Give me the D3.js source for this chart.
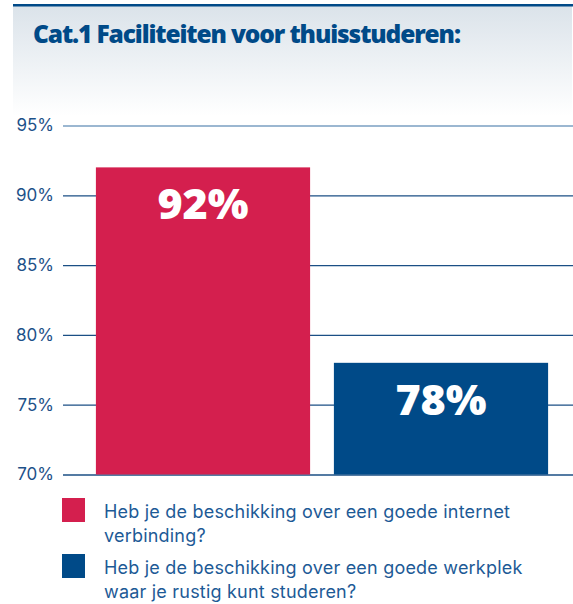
<!DOCTYPE html>
<html>
<head>
<meta charset="utf-8">
<script src="https://cdn.jsdelivr.net/npm/d3@7"></script>
<style>
html,body{margin:0;padding:0;background:#fff;}
svg{display:block;}
</style>
</head>
<body>
<svg id="chart" width="573" height="604"></svg>
<script>
const title = "Cat.1 Faciliteiten voor thuisstuderen:";
const categories = ["internet", "werkplek"];
const values = [92, 78];
const barLabels = ["92%", "78%"];
const seriesColors = ["#d41f4e", "#004a88"];
const legendLines = [
  ["Heb je de beschikking over een goede internet", "verbinding?"],
  ["Heb je de beschikking over een goede werkplek", "waar je rustig kunt studeren?"]
];
const tickValues = [70, 75, 80, 85, 90, 95];
const tickLabels = ["70%", "75%", "80%", "85%", "90%", "95%"];

const svg = d3.select("#chart");
const font = "Inter, 'Open Sans', sans-serif";

function fitSpacing(sel, target) {
  const n = sel.text().length;
  const w = sel.node().getComputedTextLength();
  return (target - w) / (n - 1);
}

// header panel
const defs = svg.append("defs");
const grad = defs.append("linearGradient").attr("id","hdr").attr("x1",0).attr("y1",0).attr("x2",0).attr("y2",1);
grad.append("stop").attr("offset","0%").attr("stop-color","#dbe3ea");
grad.append("stop").attr("offset","100%").attr("stop-color","#ffffff");
svg.append("rect").attr("x",13).attr("y",6).attr("width",559).attr("height",110).attr("fill","url(#hdr)");
svg.append("rect").attr("x",13).attr("y",4).attr("width",560).attr("height",2.5).attr("fill","#004a88");

const t = svg.append("text").attr("x",33).attr("y",43)
  .attr("font-family","'Open Sans', sans-serif").attr("font-weight",800)
  .attr("font-size",24.5).attr("fill","#004a88").text(title);
t.attr("letter-spacing", fitSpacing(t, 428));

const y = d3.scaleLinear().domain([70,95]).range([474.5,125.5]);
const x = d3.scaleBand().domain(categories).range([84,560]).paddingInner(0.1).paddingOuter(0.05);

// grid / axis
const axis = d3.axisLeft(y).tickValues(tickValues).tickFormat((d,i)=>tickLabels[i]).tickSize(-510).tickPadding(10);
const g = svg.append("g").attr("transform","translate(63,0)").call(axis);
g.select(".domain").remove();
g.selectAll(".tick line").attr("stroke",d=> d===95 ? "#7a9fc2" : "#1b4f85").attr("stroke-width",1.3);
g.selectAll(".tick text").attr("font-family",font).attr("font-size",17).attr("fill","#1d5189").attr("x",-9);

// bars
svg.append("g").selectAll("rect").data(values).join("rect")
  .attr("x",(d,i)=>x(categories[i]))
  .attr("width",x.bandwidth())
  .attr("y",d=>y(d))
  .attr("height",d=>y(70)-y(d))
  .attr("fill",(d,i)=>seriesColors[i]);

svg.append("g").selectAll("text").data(values).join("text")
  .attr("x",(d,i)=>x(categories[i])+x.bandwidth()/2)
  .attr("y",d=>y(d)+52)
  .attr("text-anchor","middle")
  .attr("font-family","'Open Sans', sans-serif").attr("font-weight",800)
  .attr("font-size",43).attr("fill","#fff")
  .text((d,i)=>barLabels[i]);

// legend
const lg = svg.append("g");
let ls = null;
legendLines.forEach((lines,i)=>{
  const top = 498 + i*56;
  lg.append("rect").attr("x",62).attr("y",top).attr("width",23).attr("height",24).attr("fill",seriesColors[i]);
  lines.forEach((ln,j)=>{
    const tx = lg.append("text").attr("x",104).attr("y",top+20+j*24)
      .attr("font-family",font).attr("font-size",18).attr("fill","#1d5a96").text(ln);
    if (ls === null) ls = fitSpacing(tx, 406);
    tx.attr("letter-spacing", ls);
  });
});
</script>
</body>
</html>
